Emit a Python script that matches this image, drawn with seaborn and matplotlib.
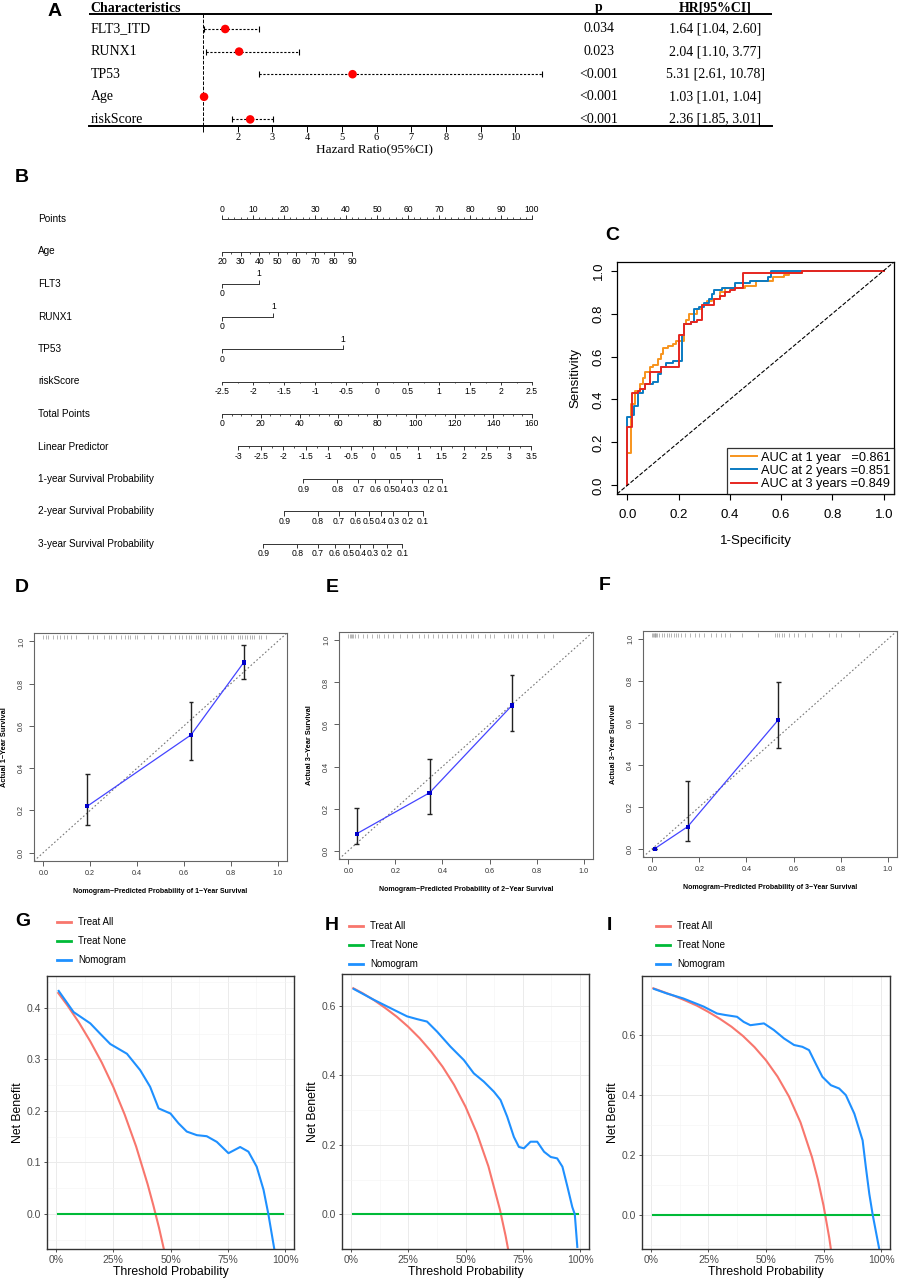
import numpy as np
import pandas as pd
import seaborn as sns
import matplotlib.pyplot as plt
from matplotlib.lines import Line2D
from matplotlib.ticker import MultipleLocator

# ---------------- data ----------------
# A: multivariate Cox forest plot
char_names = ['FLT3_ITD', 'RUNX1', 'TP53', 'Age', 'riskScore']
hr_est = [1.64, 2.04, 5.31, 1.03, 2.36]
hr_low = [1.04, 1.10, 2.61, 1.01, 1.85]
hr_high = [2.60, 3.77, 10.78, 1.04, 3.01]
p_text = ['0.034', '0.023', '<0.001', '<0.001', '<0.001']
hr_text = ['1.64 [1.04, 2.60]', '2.04 [1.10, 3.77]', '5.31 [2.61, 10.78]',
           '1.03 [1.01, 1.04]', '2.36 [1.85, 3.01]']

nomo_rows = ['Points', 'Age', 'FLT3', 'RUNX1', 'TP53', 'riskScore', 'Total Points',
             'Linear Predictor', '1-year Survival Probability',
             '2-year Survival Probability', '3-year Survival Probability']
age_range = [20, 90]
age_pts = [0, 42]
flt3_pts = 11.8
runx1_pts = 16.6
tp53_pts = 38.9
risk_range = [-2.5, 2.5]
total_max = 160
lp_range = [-3, 3.5]
lp_total = [8.3, 159.6]
surv_ticks = [0.9, 0.8, 0.7, 0.6, 0.5, 0.4, 0.3, 0.2, 0.1]
surv1_total = [42.0, 59.5, 70.4, 79.1, 86.3, 92.2, 98.2, 106.5, 113.8]
surv2_total = [32.1, 49.6, 60.3, 68.8, 75.9, 81.9, 88.4, 96.0, 103.5]
surv3_total = [21.4, 38.9, 49.6, 58.1, 65.4, 71.4, 77.7, 85.1, 93.0]

# C: time-dependent ROC (step vertices)
roc1_fpr = [0, 0, 0.013, 0.013, 0.03, 0.05, 0.06, 0.07, 0.09, 0.10, 0.12, 0.13, 0.14,
            0.16, 0.18, 0.19, 0.22, 0.23, 0.24, 0.27, 0.29, 0.31, 0.33, 0.36, 0.38,
            0.46, 0.50, 0.57, 0.61, 0.63, 0.68, 1.0]
roc1_tpr = [0, 0.15, 0.15, 0.38, 0.44, 0.47, 0.50, 0.53, 0.55, 0.56, 0.59, 0.61, 0.64,
            0.65, 0.66, 0.67, 0.75, 0.77, 0.80, 0.82, 0.84, 0.86, 0.87, 0.90, 0.92,
            0.93, 0.95, 0.97, 0.98, 0.99, 1.0, 1.0]
roc2_fpr = [0, 0, 0.02, 0.025, 0.04, 0.06, 0.07, 0.10, 0.12, 0.13, 0.15, 0.18, 0.215,
            0.22, 0.25, 0.26, 0.28, 0.30, 0.32, 0.33, 0.34, 0.37, 0.42, 0.48, 0.55,
            0.56, 1.0]
roc2_tpr = [0, 0.32, 0.33, 0.37, 0.43, 0.45, 0.47, 0.48, 0.52, 0.55, 0.57, 0.58, 0.70,
            0.75, 0.76, 0.82, 0.83, 0.85, 0.87, 0.89, 0.91, 0.92, 0.94, 0.95, 0.97,
            1.0, 1.0]
roc3_fpr = [0, 0, 0.02, 0.04, 0.05, 0.07, 0.09, 0.13, 0.20, 0.22, 0.25, 0.27, 0.29,
            0.31, 0.34, 0.36, 0.38, 0.40, 0.42, 0.45, 0.63, 0.68, 1.0]
roc3_tpr = [0, 0.27, 0.43, 0.44, 0.45, 0.47, 0.53, 0.55, 0.70, 0.75, 0.76, 0.77, 0.84,
            0.84, 0.87, 0.88, 0.90, 0.91, 0.92, 0.99, 0.99, 1.0, 1.0]
roc_labels = ['AUC at 1 year   =0.861', 'AUC at 2 years =0.851', 'AUC at 3 years =0.849']

# D-F: calibration
cal_pred = [[0.188, 0.63, 0.855], [0.035, 0.345, 0.695], [0.01, 0.15, 0.535]]
cal_obs = [[0.22, 0.557, 0.90], [0.08, 0.275, 0.69], [0.0, 0.105, 0.615]]
cal_lo = [[0.13, 0.44, 0.82], [0.03, 0.175, 0.57], [0.0, 0.035, 0.48]]
cal_hi = [[0.37, 0.715, 0.985], [0.205, 0.435, 0.835], [0.0, 0.325, 0.795]]
cal_rug = [
    [0.0, 0.01, 0.02, 0.04, 0.06, 0.07, 0.09, 0.10, 0.12, 0.14, 0.19, 0.21, 0.23, 0.26,
     0.28, 0.29, 0.31, 0.33, 0.35, 0.36, 0.37, 0.39, 0.40, 0.43, 0.46, 0.49, 0.51, 0.54,
     0.56, 0.58, 0.59, 0.61, 0.62, 0.63, 0.65, 0.66, 0.67, 0.69, 0.70, 0.72, 0.73, 0.74,
     0.76, 0.77, 0.78, 0.80, 0.81, 0.83, 0.84, 0.85, 0.86, 0.87, 0.88, 0.89, 0.90, 0.92,
     0.93, 0.95],
    [0.0, 0.005, 0.01, 0.015, 0.02, 0.03, 0.04, 0.06, 0.08, 0.10, 0.12, 0.13, 0.15, 0.17,
     0.19, 0.22, 0.25, 0.27, 0.30, 0.32, 0.34, 0.36, 0.38, 0.40, 0.42, 0.44, 0.46, 0.48,
     0.50, 0.52, 0.53, 0.55, 0.58, 0.60, 0.62, 0.66, 0.68, 0.69, 0.70, 0.72, 0.74, 0.76,
     0.80, 0.83, 0.87],
    [0.0, 0.003, 0.006, 0.01, 0.013, 0.016, 0.02, 0.03, 0.04, 0.05, 0.06, 0.07, 0.08,
     0.09, 0.10, 0.11, 0.12, 0.14, 0.16, 0.18, 0.20, 0.22, 0.25, 0.27, 0.29, 0.31, 0.33,
     0.38, 0.45, 0.52, 0.53, 0.54, 0.55, 0.56, 0.58, 0.60, 0.62, 0.65, 0.68, 0.75, 0.78,
     0.80, 0.88]]
cal_ylab = ['Actual 1\u2212Year Survival', 'Actual 3\u2212Year Survival', 'Actual 3\u2212Year Survival']
cal_xlab = ['Nomogram\u2212Predicted Probability of %d\u2212Year Survival' % k for k in (1, 2, 3)]

# G-I: decision curves
dca_labels = ['Treat All', 'Treat None', 'Nomogram']
all_pt = [
    [0.01, 0.05, 0.10, 0.15, 0.20, 0.25, 0.30, 0.35, 0.40, 0.425, 0.45, 0.475],
    [0.01, 0.05, 0.10, 0.15, 0.20, 0.25, 0.30, 0.35, 0.40, 0.45, 0.50, 0.55, 0.60,
     0.65, 0.675, 0.70],
    [0.01, 0.05, 0.10, 0.15, 0.20, 0.25, 0.30, 0.35, 0.40, 0.45, 0.50, 0.55, 0.60,
     0.65, 0.70, 0.725, 0.75, 0.775, 0.80]]
all_nb = [
    [0.429, 0.405, 0.372, 0.335, 0.294, 0.247, 0.193, 0.131, 0.058, 0.017, -0.027, -0.076],
    [0.651, 0.637, 0.617, 0.594, 0.569, 0.540, 0.507, 0.469, 0.425, 0.373, 0.310, 0.233,
     0.138, 0.014, -0.062, -0.15],
    [0.756, 0.745, 0.731, 0.715, 0.698, 0.677, 0.654, 0.628, 0.597, 0.560, 0.516, 0.462,
     0.395, 0.309, 0.193, 0.120, 0.032, -0.076, -0.21]]
none_pt = [0.01, 0.99]
none_nb = [0.0, 0.0]
nomo_pt = [
    [0.012, 0.077, 0.15, 0.193, 0.237, 0.31, 0.368, 0.411, 0.448, 0.50, 0.535, 0.571,
     0.615, 0.658, 0.702, 0.753, 0.804, 0.84, 0.876, 0.906, 0.927, 0.953],
    [0.012, 0.099, 0.187, 0.245, 0.289, 0.332, 0.376, 0.434, 0.493, 0.536, 0.58, 0.624,
     0.653, 0.682, 0.711, 0.733, 0.755, 0.784, 0.813, 0.843, 0.872, 0.90, 0.923, 0.945,
     0.966, 0.977, 0.988],
    [0.013, 0.068, 0.141, 0.229, 0.287, 0.323, 0.374, 0.403, 0.432, 0.491, 0.534, 0.578,
     0.622, 0.658, 0.687, 0.716, 0.745, 0.782, 0.818, 0.847, 0.884, 0.92, 0.934, 0.949,
     0.964, 0.993]]
nomo_nb = [
    [0.433, 0.392, 0.370, 0.350, 0.330, 0.311, 0.279, 0.247, 0.205, 0.195, 0.176, 0.160,
     0.153, 0.151, 0.140, 0.118, 0.130, 0.121, 0.092, 0.047, 0.0, -0.068],
    [0.649, 0.618, 0.589, 0.570, 0.562, 0.555, 0.526, 0.483, 0.444, 0.406, 0.382, 0.353,
     0.329, 0.281, 0.223, 0.194, 0.190, 0.209, 0.209, 0.180, 0.165, 0.161, 0.137, 0.079,
     0.021, 0.0, -0.094],
    [0.754, 0.739, 0.722, 0.695, 0.672, 0.667, 0.661, 0.644, 0.633, 0.639, 0.617, 0.589,
     0.567, 0.561, 0.550, 0.505, 0.461, 0.433, 0.422, 0.400, 0.338, 0.249, 0.160, 0.071,
     0.0, -0.116]]
dca_ylim = [(-0.068, 0.462), (-0.10, 0.692), (-0.113, 0.797)]
dca_yticks = [[0.0, 0.1, 0.2, 0.3, 0.4], [0.0, 0.2, 0.4, 0.6], [0.0, 0.2, 0.4, 0.6]]

# ---------------- layout helpers ----------------
W, H = 899, 1280
plt.rcParams['font.family'] = ['Liberation Sans', 'DejaVu Sans']
fig = plt.figure(figsize=(W / 100, H / 100), dpi=100)


def box(l, t, r, b):
    return [l / W, 1 - b / H, (r - l) / W, (b - t) / H]


def letter(x, y, s):
    fig.text(x / W, 1 - y / H, s, fontsize=14, fontweight='bold', ha='center', va='center')


# ---------------- A: forest plot ----------------
serif = ['Liberation Serif', 'DejaVu Serif']
ax = fig.add_axes(box(89, 0, 772, 126))
rows = np.arange(len(char_names))
ax.set_xlim(1 - 114 / 34.7, 1 + 569 / 34.7)
ax.set_ylim((126 - 29) / 22.6, -29 / 22.6)
for s in ['top', 'left', 'right']:
    ax.spines[s].set_visible(False)
ax.spines['bottom'].set_linewidth(1.4)
ax.axhline(-15 / 22.6, color='black', lw=1.4)
ax.vlines(1, -15 / 22.6, (126 - 29) / 22.6, colors='black', linestyles='--', lw=0.7)
ax.hlines(rows, hr_low, hr_high, colors='black', lw=0.8, linestyles=(0, (2, 1.5)))
ax.vlines(hr_low, rows - 0.13, rows + 0.13, colors='black', lw=0.8)
ax.vlines(hr_high, rows - 0.13, rows + 0.13, colors='black', lw=0.8)
sns.scatterplot(x=hr_est, y=rows, ax=ax, color='red', s=38, edgecolor='none', zorder=5)
ax.set_yticks([])
ax.set_xticks(range(1, 11))
ax.set_xticklabels([''] + [str(i) for i in range(2, 11)], family=serif, fontsize=7.5)
ax.tick_params(axis='x', length=4, width=0.7, pad=1)
ax.set_xlabel('')
ax.set_ylabel('')
tr = ax.get_yaxis_transform()
ax.text(0.002, -21 / 22.6, 'Characteristics', transform=tr, family=serif, fontsize=10,
        fontweight='bold', va='center', ha='left')
ax.text((599 - 89) / 683, -21 / 22.6, 'p', transform=tr, family=serif, fontsize=10,
        fontweight='bold', va='center', ha='center')
ax.text((715 - 89) / 683, -21 / 22.6, 'HR[95%CI]', transform=tr, family=serif, fontsize=10,
        fontweight='bold', va='center', ha='center')
for i in rows:
    ax.text(0.002, i, char_names[i], transform=tr, family=serif, fontsize=10, va='center')
    ax.text((599 - 89) / 683, i, p_text[i], transform=tr, family=serif, fontsize=10,
            va='center', ha='center')
    ax.text((715 - 89) / 683, i, hr_text[i], transform=tr, family=serif, fontsize=10,
            va='center', ha='center')
ax.text(1 + (375 - 203) / 34.7, (149 - 29) / 22.6, 'Hazard Ratio(95%CI)', family=serif,
        fontsize=9.5, ha='center', va='center', clip_on=False)
letter(55, 12, 'A')

# ---------------- B: nomogram ----------------
ax = fig.add_axes(box(0, 170, 590, 570))
px_pt = 3.1
ax.set_xlim(-222 / px_pt, (590 - 222) / px_pt)
rsp = 32.5
ax.set_ylim((570 - 219) / rsp, (170 - 219) / rsp)
ax.axis('off')
u = 1 / rsp
lc = '#333333'


def scale(row, xs, labels, side=1, minor=None, fs=6.2):
    ax.plot([min(xs), max(xs)], [row, row], color=lc, lw=0.7)
    ax.vlines(xs, row, row - side * 4 * u, color=lc, lw=0.7)
    if minor is not None:
        ax.vlines(minor, row, row - side * 2 * u, color=lc, lw=0.6)
    for x, lab in zip(xs, labels):
        ax.text(x, row - side * 10 * u, lab, ha='center', va='center', fontsize=fs)


def fmt(v):
    return '%g' % v


for i, name in enumerate(nomo_rows):
    ax.text(38 / 590, i, name, transform=ax.get_yaxis_transform(), fontsize=7.2,
            va='center', ha='left')

# Points
pts_major = np.arange(0, 101, 10)
scale(0, pts_major, [str(v) for v in pts_major], side=1, minor=np.arange(0, 101, 2))
# Age
age_vals = np.arange(age_range[0], age_range[1] + 1, 10)
age_x = np.interp(age_vals, age_range, age_pts)
scale(1, age_x, [str(v) for v in age_vals], side=-1,
      minor=np.interp(np.arange(20, 91, 5), age_range, age_pts))
# binary variables
for r, x1 in [(2, flt3_pts), (3, runx1_pts), (4, tp53_pts)]:
    ax.plot([0, x1], [r, r], color=lc, lw=0.7)
    ax.vlines(0, r, r + 4 * u, color=lc, lw=0.7)
    ax.vlines(x1, r, r - 4 * u, color=lc, lw=0.7)
    ax.text(0, r + 10 * u, '0', ha='center', va='center', fontsize=6.2)
    ax.text(x1, r - 10 * u, '1', ha='center', va='center', fontsize=6.2)
# riskScore
rs_vals = np.arange(-2.5, 2.51, 0.5)
scale(5, np.interp(rs_vals, risk_range, [0, 100]), [fmt(v) for v in rs_vals], side=-1,
      minor=np.interp(np.arange(-2.5, 2.51, 0.25), risk_range, [0, 100]))
# Total points
tot_vals = np.arange(0, total_max + 1, 20)
scale(6, tot_vals * 100 / total_max, [str(v) for v in tot_vals], side=-1,
      minor=np.arange(0, total_max + 1, 5) * 100 / total_max)
# Linear predictor
lp_vals = np.arange(-3, 3.51, 0.5)
lp_x = np.interp(lp_vals, lp_range, lp_total) * 100 / total_max
scale(7, lp_x, [fmt(v) for v in lp_vals], side=-1,
      minor=np.interp(np.arange(-3, 3.51, 0.25), lp_range, lp_total) * 100 / total_max)
# survival probabilities
for r, tot in [(8, surv1_total), (9, surv2_total), (10, surv3_total)]:
    scale(r, np.array(tot) * 100 / total_max, [fmt(v) for v in surv_ticks], side=-1)
letter(22, 177, 'B')

# ---------------- C: ROC ----------------
ax = fig.add_axes(box(617, 262, 894, 494))
roc_cols = ['#F7941D', '#0A7BC2', '#E6261F']
for f, t, c, lab in zip([roc1_fpr, roc2_fpr, roc3_fpr], [roc1_tpr, roc2_tpr, roc3_tpr],
                        roc_cols, roc_labels):
    sns.lineplot(x=f, y=t, ax=ax, color=c, lw=1.4, drawstyle='steps-post', sort=False,
                 estimator=None, label=lab)
ax.plot([-0.04, 1.04], [-0.04, 1.04], color='black', ls='--', lw=0.8)
ax.set_xlim(-0.04, 1.04)
ax.set_ylim(-0.04, 1.04)
ticks = [0, 0.2, 0.4, 0.6, 0.8, 1.0]
ax.set_xticks(ticks)
ax.set_yticks(ticks)
ax.set_xticklabels(['%.1f' % v for v in ticks], fontsize=9.5)
ax.set_yticklabels(['%.1f' % v for v in ticks], fontsize=9.5, rotation=90, va='center')
ax.tick_params(axis='x', length=4, width=0.8, pad=7)
ax.tick_params(axis='y', length=4, width=0.8, pad=5)
for s in ax.spines.values():
    s.set_linewidth(0.9)
ax.set_xlabel('1-Specificity', fontsize=9.5, labelpad=10)
ax.set_ylabel('Sensitivity', fontsize=9.5, labelpad=8)
leg = ax.legend(loc='lower right', fontsize=9.2, frameon=True, fancybox=False,
                edgecolor='black', borderaxespad=0, handlelength=2.0, labelspacing=0.1,
                borderpad=0.3, handletextpad=0.3)
leg.get_frame().set_linewidth(0.9)
letter(612, 236, 'C')

# ---------------- D-F: calibration ----------------
cal_boxes = [(34, 633, 287, 861), (339, 632, 593, 859), (643, 631, 897, 857)]
cal_letters = [(22, 587, 'D'), (332, 587, 'E'), (605, 585, 'F')]
for k in range(3):
    ax = fig.add_axes(box(*cal_boxes[k]))
    ax.plot([-0.04, 1.04], [-0.04, 1.04], color='#777777', ls=(0, (1.5, 2)), lw=0.8)
    ax.vlines(cal_rug[k], 0.975, 0.992, transform=ax.get_xaxis_transform(),
              colors='#999999', lw=0.5)
    ax.vlines(cal_pred[k], cal_lo[k], cal_hi[k], colors='#222222', lw=1.0)
    ax.hlines(cal_lo[k], np.array(cal_pred[k]) - 0.01, np.array(cal_pred[k]) + 0.01,
              colors='#222222', lw=1.0)
    ax.hlines(cal_hi[k], np.array(cal_pred[k]) - 0.01, np.array(cal_pred[k]) + 0.01,
              colors='#222222', lw=1.0)
    sns.lineplot(x=cal_pred[k], y=cal_obs[k], ax=ax, color='#4444FF', lw=0.9,
                 sort=False, estimator=None)
    sns.scatterplot(x=cal_pred[k], y=cal_obs[k], ax=ax, color='#0000CC', marker='s', s=9,
                    edgecolor='none', zorder=5)
    ax.set_xlim(-0.04, 1.04)
    ax.set_ylim(-0.04, 1.04)
    ax.set_xticks(ticks)
    ax.set_yticks(ticks)
    ax.set_xticklabels(['%.1f' % v for v in ticks], fontsize=5.2)
    ax.set_yticklabels(['%.1f' % v for v in ticks], fontsize=5.2, rotation=90, va='center')
    ax.tick_params(length=3.5, width=0.6, pad=3, color='#444444', labelcolor='#333333')
    for s in ax.spines.values():
        s.set_color('#666666')
        s.set_linewidth(0.8)
    ax.set_xlabel(cal_xlab[k], fontsize=5, fontweight='bold', labelpad=8)
    ax.set_ylabel(cal_ylab[k], fontsize=5.3, fontweight='bold', labelpad=7)
    letter(*cal_letters[k])

# ---------------- G-I: decision curves ----------------
dca_boxes = [(47, 976, 294, 1249), (342, 974, 589, 1249), (642, 976, 890, 1249)]
dca_letters = [(23, 922, 'G'), (332, 926, 'H'), (609, 926, 'I')]
dca_leg = [(57, 917), (349, 921), (656, 921)]
dca_cols = ['#F8766D', '#00BA38', '#1E90FF']
for k in range(3):
    ax = fig.add_axes(box(*dca_boxes[k]))
    sns.lineplot(x=all_pt[k], y=all_nb[k], ax=ax, color=dca_cols[0], lw=1.5,
                 sort=False, estimator=None)
    sns.lineplot(x=none_pt, y=none_nb, ax=ax, color=dca_cols[1], lw=1.5,
                 sort=False, estimator=None)
    sns.lineplot(x=nomo_pt[k], y=nomo_nb[k], ax=ax, color=dca_cols[2], lw=1.5,
                 sort=False, estimator=None)
    ax.set_xlim(-0.039, 1.039)
    ax.set_ylim(*dca_ylim[k])
    ax.set_xticks([0, 0.25, 0.5, 0.75, 1.0])
    ax.set_xticklabels(['0%', '25%', '50%', '75%', '100%'])
    ax.set_yticks(dca_yticks[k])
    ax.set_yticklabels(['%.1f' % v for v in dca_yticks[k]])
    ax.xaxis.set_minor_locator(MultipleLocator(0.125))
    step = dca_yticks[k][1] - dca_yticks[k][0]
    ax.yaxis.set_minor_locator(MultipleLocator(step / 2))
    ax.grid(which='major', color='#EBEBEB', lw=0.7)
    ax.grid(which='minor', color='#F4F4F4', lw=0.4)
    ax.set_axisbelow(True)
    ax.tick_params(which='major', length=2.5, width=0.6, color='#333333',
                   labelcolor='#4D4D4D', labelsize=7.5, pad=1.5)
    ax.tick_params(which='minor', length=0)
    for s in ax.spines.values():
        s.set_color('#333333')
        s.set_linewidth(1.0)
    ax.set_xlabel('Threshold Probability', fontsize=8.8, labelpad=1)
    ax.set_ylabel('Net Benefit', fontsize=8.8, labelpad=2)
    handles = [Line2D([], [], color=c, lw=2) for c in dca_cols]
    lx, ly = dca_leg[k]
    ax.legend(handles, dca_labels, loc='upper left', bbox_to_anchor=(lx / W, 1 - ly / H),
              bbox_transform=fig.transFigure, frameon=False, fontsize=7, borderpad=0,
              handlelength=1.4, handletextpad=0.8, labelspacing=0.95, borderaxespad=0)
    letter(*dca_letters[k])

fig.savefig('out.png', dpi=100)
